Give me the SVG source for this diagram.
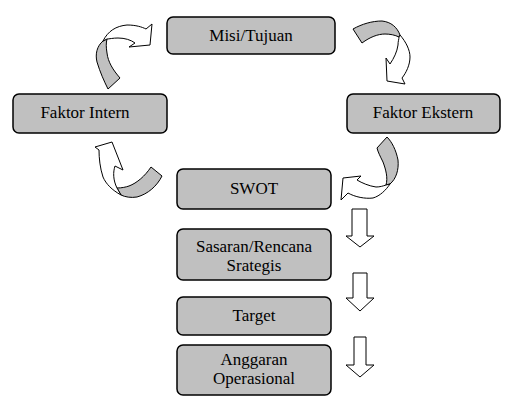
<svg xmlns="http://www.w3.org/2000/svg" width="515" height="404" viewBox="0 0 515 404">
<style>
.box{fill:#c0c0c0;stroke:#000;stroke-width:1.5}
.t{font-family:"Liberation Serif","DejaVu Serif",serif;font-size:17px;fill:#000;text-anchor:middle}
.w{fill:#fff;stroke:#000;stroke-width:1;stroke-linejoin:round}
.g{fill:#c0c0c0;stroke:#000;stroke-width:1;stroke-linejoin:round}
</style>
<rect width="515" height="404" fill="#fff"/>
<g id="misi"><rect class="box" x="167" y="17" width="168" height="37" rx="6"/><text class="t" x="251" y="41">Misi/Tujuan</text></g>
<g id="intern"><rect class="box" x="13" y="94" width="154" height="39" rx="6"/><text class="t" x="85" y="118">Faktor Intern</text></g>
<g id="ekstern"><rect class="box" x="347" y="94" width="153" height="39" rx="6"/><text class="t" x="423" y="118">Faktor Ekstern</text></g>
<g id="swot"><rect class="box" x="177" y="169" width="154" height="40" rx="6"/><text class="t" x="254" y="194">SWOT</text></g>
<g id="sasaran"><rect class="box" x="177" y="229" width="154" height="51" rx="6"/><text class="t" x="254" y="252">Sasaran/Rencana</text><text class="t" x="254" y="271">Srategis</text></g>
<g id="target"><rect class="box" x="177" y="297" width="154" height="38" rx="6"/><text class="t" x="254" y="321">Target</text></g>
<g id="anggaran"><rect class="box" x="177" y="345" width="154" height="50" rx="6"/><text class="t" x="254" y="365">Anggaran</text><text class="t" x="254" y="384">Operasional</text></g>
<g id="connectors">
<path class="g" d="M103,41 C97,46 95,54 97,62 C100,72 104,81 108,89 L120,78 C113,70 108,62 107,53 C106,47 106,43 107,39 Z"/>
<path class="w" d="M103,41 C108,31 116,26 127,25 C136,25 142,27 146,29 L152,24 L150,45 L129,47 L135,43 C131,40 125,38 118,38 C113,38 109,39 107,39 Z"/>
<path class="g" d="M353,29 C362,24 372,21 382,21 C391,22 397,27 400,35 L399,37 C395,35 390,34 385,34 C378,34 370,37 362,43 Z"/>
<path class="w" d="M400,35 C406,42 410,50 410,57 C410,65 406,73 402,78 L405,84 L387,81 L386,58 L390,64 C394,58 397,52 398,45 C398,41 399,39 399,37 Z"/>
<path class="g" d="M151,167 L162,176 C157,186 148,194 137,197 C131,198 125,197 121,195 L117,188 C122,188 126,187 129,186 C137,183 145,176 151,167 Z"/>
<path class="w" d="M121,195 C112,190 106,184 103,177 C100,168 99,158 99,150 L95,147 L112,142 L123,170 L115,166 C113,172 113,180 117,188 Z"/>
<path class="g" d="M387,137 C392,142 396,150 398,160 C399,170 396,179 390,184 L386,185 C388,178 386,170 383,162 C380,156 378,152 377,148 Z"/>
<path class="w" d="M390,184 C386,190 380,196 373,198 C365,199 355,197 348,193 L341,200 L343,178 L361,176 L357,180 C362,183 369,186 376,187 C380,187 383,186 386,185 Z"/>
<path class="w" d="M352,209 H367 V236 H374 L360,247 L346,236 H352 Z"/>
<path class="w" d="M353,273 H367 V298 H374 L360,311 L346,298 H353 Z"/>
<path class="w" d="M354,337 H366 V365 H374 L360,377 L346,365 H354 Z"/>
</g>
</svg>
